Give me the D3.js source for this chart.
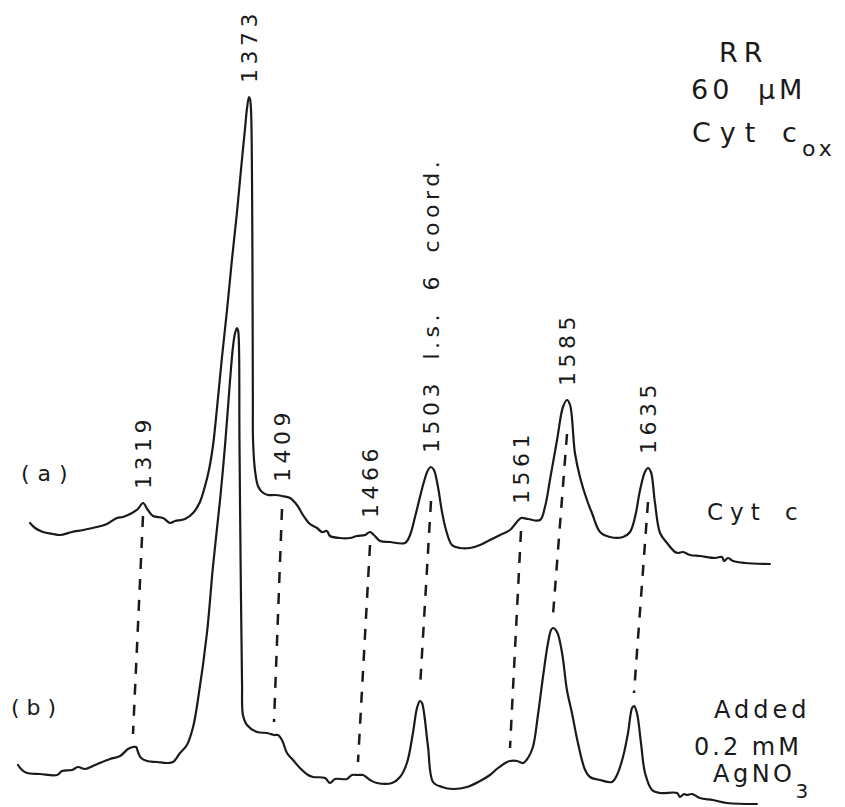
<!DOCTYPE html>
<html>
<head>
<meta charset="utf-8">
<script src="https://cdn.jsdelivr.net/npm/d3@7"></script>
<style>
  html, body { margin: 0; padding: 0; background: #fff; }
  svg { display: block; }
  text { font-family: "DejaVu Sans", sans-serif; fill: #1a1a1a; }
</style>
</head>
<body>
<svg id="chart" width="845" height="807"></svg>
<script>
// Resonance Raman spectra of oxidised cytochrome c, 1250–1720 cm-1.
// Band positions (cm-1) that are marked on the spectra.
const peaks = [1319, 1373, 1409, 1466, 1503, 1561, 1585, 1635];
const peakLabels = ["1319", "1373", "1409", "1466", "1503 l.s. 6 coord.", "1561", "1585", "1635"];
// Bands joined by a tie line between trace (a) and trace (b).
const linkedPeaks = [1319, 1409, 1466, 1503, 1561, 1585, 1635];
// Well-resolved bands: the tie line starts inside the band envelope.
const resolvedPeaks = [1503, 1585, 1635];
// Ends of the recorded range, cm-1.
const rangeEnds = [1250, 1720];

// Trace (a): Cyt c alone. [wavenumber cm-1, intensity (arb.)]
const traceA = [
  [1250.0,9.4],[1253.1,8.4],[1257.9,7.6],[1264.0,7.2],[1268.3,7.0],[1275.6,7.6],[1282.4,8.0],
  [1290.9,8.6],[1297.0,9.2],[1303.1,10.4],[1306.8,10.6],[1312.3,11.4],[1315.9,12.2],[1319,13.4],
  [1321.5,12.0],[1324.1,10.8],[1329.2,10.4],[1332.8,9.4],[1335.3,9.8],[1340.4,10.2],[1344.5,11.4],
  [1348.0,13.6],[1350.6,16.8],[1352.6,20],[1354.7,25],[1356.7,32.4],[1359.2,42.4],[1361.8,52],
  [1364.3,62],[1366.9,71.6],[1368.9,80],[1371.0,88.4],[1372.0,92.4],[1373,94.6],[1374.1,94.2],
  [1375.2,92],[1376.3,78],[1376.9,54],[1377.2,34],[1377.4,26],[1379.5,20],[1382.8,16.8],
  [1387.2,15.6],[1393.7,15],[1401.4,15],[1409,14.8],[1414.2,14.4],[1418.7,13],[1422.6,11],
  [1427.1,9.2],[1431.7,8.4],[1434.9,7.6],[1438.1,7.8],[1440.1,6.8],[1446.6,6.4],[1453.0,6.4],
  [1457.6,6.8],[1462.8,7.0],[1466,7.6],[1468.4,7.0],[1472.1,5.8],[1478.1,5.6],[1487.2,5.4],
  [1490.3,7.0],[1493.3,10.6],[1496.3,14.6],[1498.7,17.6],[1501.2,20],[1503,20.6],[1504.9,20],
  [1507.5,16.6],[1510.1,11.6],[1512.7,8],[1516.5,5],[1521.7,4.4],[1528.1,4.4],[1534.6,5],
  [1541.0,6],[1547.5,7],[1553.9,8],[1557.8,9.4],[1561,10.4],[1564.7,10.2],[1570.9,10],
  [1573.5,12.6],[1576.1,18],[1579.8,26],[1582.9,32.6],[1585,34],[1586.9,33],[1589.9,23.4],
  [1593.0,18.6],[1597.3,14],[1600.4,11.4],[1605.4,7.6],[1611.5,6.6],[1619.6,6.6],[1623.9,7.6],
  [1627.0,10.6],[1630.1,16],[1633.1,19.6],[1635,20.4],[1636.8,19.6],[1639.3,13.4],[1642.4,7.4],
  [1646.7,5.4],[1651.6,3.6],[1653.5,3.4],[1656.6,3.6],[1660.9,3],[1667.0,2.8],[1676.3,2.4],
  [1680.6,2.6],[1681.8,1.8],[1684.3,2.4],[1687.4,1.8],[1694.7,1.4],[1710.1,1.2]
];

// Trace (b): after adding 0.2 mM AgNO3.
const traceB = [
  [1250,9],[1252.4,8],[1255.4,7.4],[1263.2,7.2],[1273.4,7],[1276.4,7.8],[1282.4,8],[1286.0,8.6],
  [1290.2,8.2],[1296.2,9],[1305.2,10.2],[1311.2,10.8],[1316.0,12.2],[1319,12.6],[1320.6,12.6],
  [1321.6,11.6],[1323.2,10.4],[1326.3,9.8],[1331.5,9.6],[1336.7,9.4],[1339.8,9.6],[1343.4,11.4],
  [1347.0,13],[1350.2,16.6],[1352.7,22],[1357.4,35.4],[1360.5,48.6],[1364.2,62],[1366.8,73],
  [1369.4,86],[1370.9,92.6],[1372.0,95.4],[1373,96.4],[1374.0,96],[1374.9,93],[1375.4,74],
  [1376.9,42],[1377.9,25.4],[1378.8,19],[1382.7,17],[1392.5,15.6],[1402.2,15.4],[1409,15],
  [1411.7,15],[1414.4,14],[1417.8,11.4],[1421.9,10],[1426.6,8.4],[1432.1,7],[1435.5,6.6],
  [1443.6,6.4],[1447.0,5.4],[1450.4,6.2],[1458.5,6.2],[1461.9,7],[1466,7],[1469.0,7],[1473.2,6],
  [1477.3,5.4],[1486.3,5.4],[1491.1,6.6],[1495.2,9.4],[1498.8,15.4],[1501.2,20.4],[1503,21.8],
  [1504.3,21.4],[1505.6,19.4],[1508.2,12.6],[1511.4,5.6],[1517.2,4.6],[1524.3,4.2],[1533.3,4.6],
  [1541.7,5.8],[1548.1,7],[1553.3,8.4],[1559.1,9.6],[1561,9.8],[1564.9,9.8],[1568.3,9.4],
  [1571.0,10.4],[1573.8,12.6],[1576.6,19],[1579.4,26.6],[1582.2,33.4],[1583.9,36],[1585,36.4],
  [1587.5,35.6],[1590.6,31.4],[1593.6,24],[1596.7,19.4],[1600.4,13.4],[1604.8,8],[1607.8,6.6],
  [1614.0,6],[1621.4,5.6],[1624.5,7],[1628.2,10.6],[1631.3,15.4],[1633.8,20.4],[1635,20.8],
  [1636.8,19.4],[1639.3,13.4],[1641.8,7.4],[1646.1,4],[1651.0,3.4],[1661.5,3.4],[1663.3,2.6],
  [1665.8,3.2],[1667.6,3],[1670.7,3.2],[1675.6,2.4],[1683.6,2],[1692.3,1.4],[1710.7,1.2]
];

const svg = d3.select("#chart");
const ink = "#1a1a1a";

// The chart-recorder wavenumber axis is not uniform, so each trace gets a
// piecewise-linear scale calibrated at the marked bands.
const knots = [rangeEnds[0], ...peaks, rangeEnds[1]];
const xA = d3.scaleLinear().domain(knots).range([30, 143, 249, 282, 370, 431, 521, 567, 648, 786]);
const xB = d3.scaleLinear().domain(knots).range([18, 133, 237, 274, 358, 420, 510, 553, 634, 772]);
// Each trace is offset vertically on the page.
const yA = d3.scaleLinear().domain([0, 100]).range([570, 70]);
const yB = d3.scaleLinear().domain([0, 100]).range([810, 310]);

const lineA = d3.line().x(d => xA(d[0])).y(d => yA(d[1])).curve(d3.curveCatmullRom.alpha(0.5));
const lineB = d3.line().x(d => xB(d[0])).y(d => yB(d[1])).curve(d3.curveCatmullRom.alpha(0.5));

const at = (trace, wn) => trace.find(d => d[0] === wn)[1];

// Tie lines between corresponding bands
svg.append("g")
  .selectAll("line")
  .data(linkedPeaks)
  .join("line")
  .attr("x1", p => xA(p))
  .attr("y1", p => yA(at(traceA, p)) + (resolvedPeaks.includes(p) ? 34 : 13))
  .attr("x2", p => xB(p))
  .attr("y2", p => yB(at(traceB, p)) - 13)
  .attr("stroke", ink)
  .attr("stroke-width", 2.5)
  .attr("stroke-dasharray", "11,10");

// Spectra
svg.append("path").datum(traceA).attr("d", lineA)
  .attr("fill", "none").attr("stroke", ink).attr("stroke-width", 2.2)
  .attr("stroke-linejoin", "round").attr("stroke-linecap", "round");
svg.append("path").datum(traceB).attr("d", lineB)
  .attr("fill", "none").attr("stroke", ink).attr("stroke-width", 2.2)
  .attr("stroke-linejoin", "round").attr("stroke-linecap", "round");

// Band labels, written upward above trace (a)
svg.append("g")
  .selectAll("text")
  .data(peaks)
  .join("text")
  .attr("transform", p => `translate(${xA(p)},${yA(at(traceA, p)) - 14}) rotate(-90)`)
  .attr("dy", "0.36em")
  .attr("text-anchor", "start")
  .attr("font-size", 22)
  .attr("letter-spacing", 4.5)
  .attr("word-spacing", 8)
  .text((p, i) => peakLabels[i]);

// Trace tags
function label(x, y, str, size, spacing, wordSpacing) {
  return svg.append("text").attr("x", x).attr("y", y)
    .attr("font-size", size).attr("letter-spacing", spacing)
    .attr("word-spacing", wordSpacing || 0).text(str);
}
label(21, 481, "(a)", 22, 8);
label(11, 715, "(b)", 22, 7);
label(707, 520, "Cyt c", 23, 7, 4);
label(714, 718, "Added", 24, 4);
label(694, 755, "0.2 mM", 24, 3);
const salt = label(713, 782, "AgNO", 24, 3.5);
salt.append("tspan").attr("dy", 16).attr("font-size", 20).text("3");

// Sample description, top right
label(719, 62, "RR", 27, 6);
label(691, 99, "60 µM", 27, 4, 12);
const cyt = label(692, 142, "Cyt", 27, 9);
cyt.append("tspan").attr("x", 782).text("c");
cyt.append("tspan").attr("x", 802).attr("dy", 14).attr("font-size", 22)
  .attr("letter-spacing", 4).text("ox");
</script>
</body>
</html>
